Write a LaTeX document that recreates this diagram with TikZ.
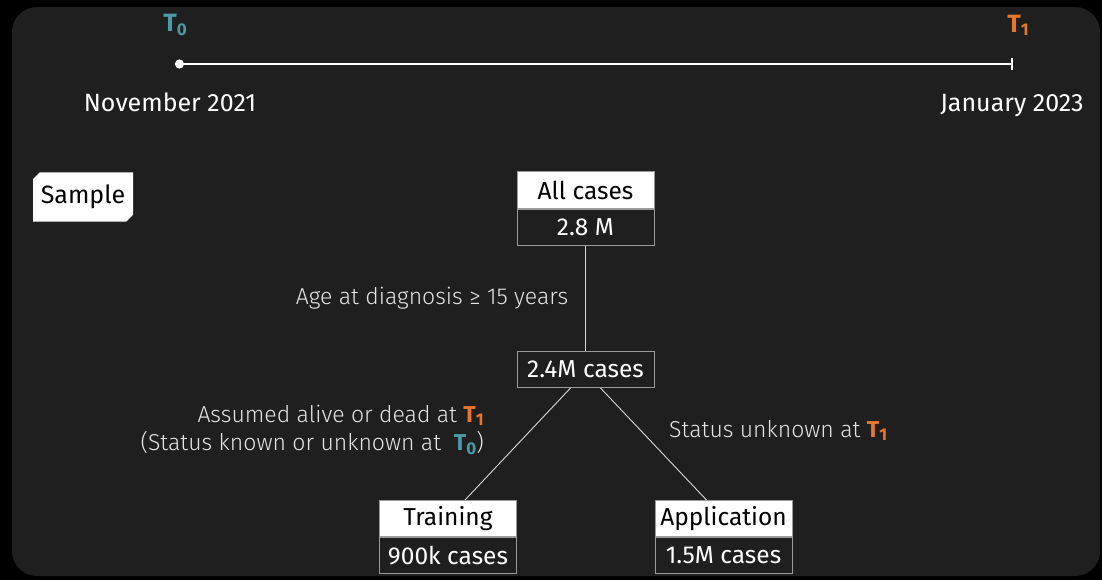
\documentclass[tikz,border=0pt]{standalone}
\usepackage{fontspec}
\setmainfont{Fira Sans}
\newfontfamily\lightfont{Fira Sans Light}
\usepackage{tikz}
\usetikzlibrary{arrows.meta,positioning,shapes.misc}
\definecolor{panel}{HTML}{1F1F1F}
\definecolor{tzero}{HTML}{4B9AA8}
\definecolor{tone}{HTML}{E8762C}
\definecolor{edge}{HTML}{9A9A9A}
\newcommand{\Tz}{{\color{tzero}\fontspec{Fira Sans}\bfseries T\raisebox{-0.25ex}{\fontsize{17}{17}\selectfont 0}}}
\newcommand{\To}{{\color{tone}\fontspec{Fira Sans}\bfseries T\raisebox{-0.25ex}{\fontsize{17}{17}\selectfont 1}}}
\tikzset{
  txt/.style={text=white,font=\fontsize{25}{29}\selectfont,inner sep=0pt,anchor=base},
  lbl/.style={text=white!90!black,font=\lightfont\fontsize{23}{29}\selectfont,inner sep=0pt},
  headbox/.style={fill=white,draw=edge,line width=1pt,text=black,minimum width=137pt,minimum height=36pt,inner sep=0pt,font=\fontsize{24.5}{28}\selectfont},
  numbox/.style={fill=panel,draw=edge,line width=1pt,text=white,minimum width=137pt,minimum height=36pt,inner sep=0pt,font=\fontsize{24.5}{28}\selectfont},
  link/.style={draw=white!85!black,line width=0.9pt}
}

\begin{document}
\begin{tikzpicture}[x=1pt,y=-1pt]
    \useasboundingbox (0,0) rectangle (1102,580);
    \fill[black] (0,0) rectangle (1102,580);
    \fill[panel,rounded corners=25pt] (12,7) rectangle (1100,576);
    % timeline
    \coordinate (start) at (175,64);
    \coordinate (stop) at (1013,64);
    \draw[white,line width=2.6pt,{Circle[length=9pt]}-{Bar[width=12pt,line width=2pt]}] (start) -- (stop);
    \node[font=\fontsize{25}{25}\selectfont] (t0) at (175,25) {\Tz};
    \node[font=\fontsize{25}{25}\selectfont] (t1) at (1018,25) {\To};
    \node[txt] (nov) at (170,112) {November 2021};
    \node[txt] (jan) at (1012,112) {January 2023};
    % sample tag
    \node[fill=white,text=black,font=\fontsize{25}{28}\selectfont,chamfered rectangle,
          chamfered rectangle corners={north west,south east},chamfered rectangle xsep=3pt,
          minimum width=100pt,minimum height=49pt,inner sep=0pt] (sample) at (83,197) {Sample};
    % boxes
    \node[headbox] (all) at (585.5,190) {All cases};
    \node[numbox,below=0pt of all] (allN) {2.8 M};
    \node[numbox] (mid) at (585.5,369.5) {2.4M cases};
    \node[headbox] (train) at (448,518.5) {Training};
    \node[numbox,below=0pt of train] (trainN) {900k cases};
    \node[headbox] (app) at (723.5,518.5) {Application};
    \node[numbox,below=0pt of app] (appN) {1.5M cases};
    % links
    \draw[link] (allN.south) -- (mid.north);
    \draw[link] ([xshift=-15pt]mid.south) -- ([xshift=17pt]train.north);
    \draw[link] ([xshift=15pt]mid.south) -- ([xshift=-17pt]app.north);
    % labels
    \node[lbl] (age) at (432,298) {Age at diagnosis ≥ 15 years};
    \node[lbl,anchor=east] (left1) at (484,415) {Assumed alive or dead at \To};
    \node[lbl,anchor=east] (left2) at (484,443) {(Status known or unknown at\ \ \Tz)};
    \node[lbl,anchor=west] (right) at (669,430) {Status unknown at \To};
\end{tikzpicture}
\end{document}
